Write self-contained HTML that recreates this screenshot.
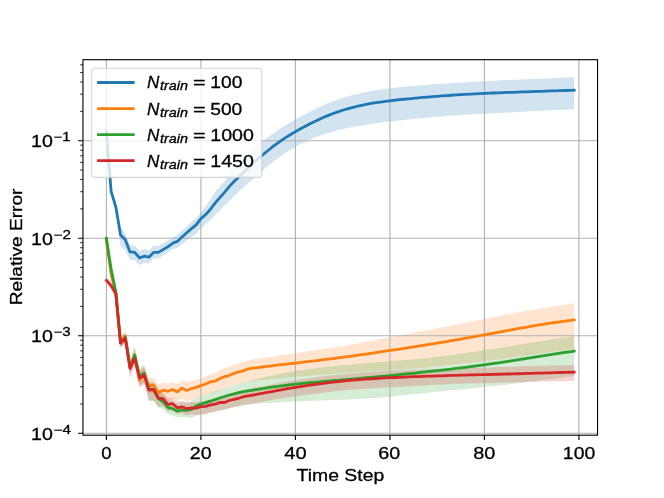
<!DOCTYPE html>
<html><head><meta charset="utf-8"><title>Relative Error vs Time Step</title>
<style>
html,body{margin:0;padding:0;background:#ffffff;}
body{width:664px;height:498px;overflow:hidden;position:relative;font-family:"Liberation Sans",sans-serif;}
svg{will-change:transform;}
svg text{font-family:"Liberation Sans",sans-serif;}
</style></head>
<body>
<svg width="664" height="498" viewBox="0 0 664 498" style="display:block;position:absolute;left:0;top:0">
<rect x="0" y="0" width="664" height="498" fill="#ffffff"/>
<defs><clipPath id="ax"><rect x="82.95" y="59.7" width="514.5999999999999" height="375.5"/></clipPath></defs>
<g clip-path="url(#ax)">
<polygon points="106.39,130 111.12,188.8 115.84,203 120.57,227 125.29,233.5 130.02,245.1 134.74,245.5 139.47,250.9 144.19,249.3 148.92,250.4 153.64,245.85 158.37,246.1 163.09,243.45 167.82,240.8 172.55,237.1 177.27,235 182,230.4 186.72,226.18 191.45,221.95 196.17,218.22 200.9,211.9 205.62,206.4 210.35,199.4 215.07,192 219.8,186.3 224.52,180.9 229.25,174.6 233.98,168.6 238.7,163.5 243.43,158.5 248.15,153.6 252.88,149.41 257.6,145.51 262.33,141.81 267.05,138.11 271.78,134.6 276.5,131.25 281.23,128.06 285.96,125.03 290.68,122.15 295.41,119.39 300.13,116.75 304.86,114.21 309.58,111.77 314.31,109.44 319.03,107.21 323.76,105.09 328.48,103.1 333.21,101.25 337.93,99.53 342.66,97.95 347.39,96.51 352.11,95.2 356.84,94.01 361.56,92.93 366.29,91.95 371.01,91.07 375.74,90.27 380.46,89.56 385.19,88.91 389.91,88.32 394.64,87.78 399.36,87.28 404.09,86.81 408.82,86.37 413.54,85.95 418.27,85.55 422.99,85.16 427.72,84.78 432.44,84.41 437.17,84.06 441.89,83.71 446.62,83.38 451.34,83.06 456.07,82.76 460.79,82.47 465.52,82.2 470.25,81.94 474.97,81.69 479.7,81.45 484.42,81.22 489.15,80.99 493.87,80.77 498.6,80.55 503.32,80.33 508.05,80.11 512.77,79.9 517.5,79.68 522.23,79.47 526.95,79.26 531.68,79.05 536.4,78.84 541.13,78.63 545.85,78.42 550.58,78.22 555.3,78.01 560.03,77.81 564.75,77.61 569.48,77.4 574.2,77.2 574.2,109.2 569.48,109.42 564.75,109.65 560.03,109.87 555.3,110.1 550.58,110.32 545.85,110.55 541.13,110.78 536.4,111.01 531.68,111.24 526.95,111.47 522.23,111.7 517.5,111.94 512.77,112.17 508.05,112.41 503.32,112.65 498.6,112.89 493.87,113.14 489.15,113.39 484.42,113.65 479.7,113.91 474.97,114.18 470.25,114.47 465.52,114.77 460.79,115.08 456.07,115.41 451.34,115.75 446.62,116.11 441.89,116.48 437.17,116.87 432.44,117.27 427.72,117.69 422.99,118.12 418.27,118.56 413.54,119.01 408.82,119.48 404.09,119.96 399.36,120.46 394.64,120.97 389.91,121.51 385.19,122.07 380.46,122.66 375.74,123.28 371.01,123.94 366.29,124.65 361.56,125.41 356.84,126.23 352.11,127.11 347.39,128.07 342.66,129.11 337.93,130.25 333.21,131.51 328.48,132.88 323.76,134.39 319.03,136.05 314.31,137.87 309.58,139.84 304.86,141.99 300.13,144.33 295.41,146.88 290.68,149.63 285.96,152.61 281.23,155.83 276.5,159.28 271.78,162.93 267.05,166.78 262.33,170.76 257.6,174.81 252.88,179 248.15,183.2 243.43,187.45 238.7,191.8 233.98,196 229.25,201.1 224.52,205.5 219.8,210.4 215.07,215.1 210.35,220.1 205.62,224.1 200.9,228.3 196.17,233.97 191.45,237.05 186.72,240.62 182,244.2 177.27,248.03 172.55,249.37 167.82,252.3 163.09,255.45 158.37,258.6 153.64,258.6 148.92,263.4 144.19,262.8 139.47,264.9 134.74,259.95 130.02,260 125.29,249.8 120.57,247 115.84,212 111.12,194.3 106.39,132" fill="#1f77b4" fill-opacity="0.2"/>
<polygon points="106.39,237.5 111.12,270.67 115.84,289.83 120.57,339 125.29,330.4 130.02,359 134.74,347 139.47,370 144.19,366.3 148.92,377.65 153.64,377.4 158.37,385 163.09,382.2 167.82,383.7 172.55,382.2 177.27,384.3 182,380.3 186.72,382.6 191.45,380.8 196.17,379.65 200.9,378 205.62,376.18 210.35,373.76 215.07,372.94 219.8,370.02 224.52,367.9 229.25,366.6 233.98,364.43 238.7,363.15 243.43,362.18 248.15,360.4 252.88,359.59 257.6,358.82 262.33,358.08 267.05,357.34 271.78,356.61 276.5,355.91 281.23,355.22 285.96,354.53 290.68,353.86 295.41,353.17 300.13,352.48 304.86,351.79 309.58,351.08 314.31,350.36 319.03,349.63 323.76,348.9 328.48,348.17 333.21,347.42 337.93,346.67 342.66,345.91 347.39,345.13 352.11,344.33 356.84,343.5 361.56,342.65 366.29,341.77 371.01,340.87 375.74,339.95 380.46,339.02 385.19,338.09 389.91,337.17 394.64,336.25 399.36,335.34 404.09,334.45 408.82,333.56 413.54,332.69 418.27,331.81 422.99,330.93 427.72,330.04 432.44,329.15 437.17,328.24 441.89,327.33 446.62,326.42 451.34,325.49 456.07,324.57 460.79,323.64 465.52,322.71 470.25,321.78 474.97,320.84 479.7,319.9 484.42,318.96 489.15,318.02 493.87,317.07 498.6,316.14 503.32,315.21 508.05,314.3 512.77,313.41 517.5,312.54 522.23,311.69 526.95,310.86 531.68,310.05 536.4,309.26 541.13,308.48 545.85,307.71 550.58,306.95 555.3,306.2 560.03,305.45 564.75,304.7 569.48,303.95 574.2,303.2 574.2,349 569.48,349.59 564.75,350.2 560.03,350.83 555.3,351.46 550.58,352.11 545.85,352.76 541.13,353.42 536.4,354.1 531.68,354.77 526.95,355.46 522.23,356.14 517.5,356.82 512.77,357.5 508.05,358.17 503.32,358.83 498.6,359.46 493.87,360.07 489.15,360.66 484.42,361.22 479.7,361.75 474.97,362.27 470.25,362.77 465.52,363.28 460.79,363.78 456.07,364.28 451.34,364.79 446.62,365.3 441.89,365.81 437.17,366.31 432.44,366.8 427.72,367.27 422.99,367.71 418.27,368.13 413.54,368.53 408.82,368.89 404.09,369.24 399.36,369.56 394.64,369.86 389.91,370.14 385.19,370.41 380.46,370.66 375.74,370.92 371.01,371.18 366.29,371.45 361.56,371.74 356.84,372.04 352.11,372.37 347.39,372.71 342.66,373.06 337.93,373.42 333.21,373.79 328.48,374.16 323.76,374.53 319.03,374.9 314.31,375.27 309.58,375.64 304.86,376.01 300.13,376.4 295.41,376.79 290.68,377.2 285.96,377.62 281.23,378.06 276.5,378.51 271.78,378.98 267.05,379.47 262.33,379.97 257.6,380.47 252.88,380.98 248.15,381.5 243.43,383.1 238.7,383.9 233.98,384.9 229.25,386.8 224.52,387.9 219.8,389.9 215.07,392.5 210.35,393 205.62,395 200.9,396.4 196.17,398.5 191.45,400.1 186.72,401.45 182,398.7 177.27,401.65 172.55,398.5 167.82,400.3 163.09,399.1 158.37,401.55 153.64,393.6 148.92,394.25 144.19,383.3 139.47,387.5 134.74,362.5 130.02,372 125.29,340.9 120.57,347.5 115.84,297.5 111.12,277.5 106.39,243.5" fill="#ff7f0e" fill-opacity="0.2"/>
<polygon points="106.39,235.2 111.12,265.67 115.84,288.33 120.57,338.8 125.29,332.5 130.02,361 134.74,346.8 139.47,368 144.19,364.4 148.92,381.35 153.64,382 158.37,391 163.09,394.3 167.82,399.8 172.55,401.2 177.27,403.57 182,402.25 186.72,402.43 191.45,401.5 196.17,398.15 200.9,396.6 205.62,394.7 210.35,392.8 215.07,391.3 219.8,389.8 224.52,388.15 229.25,386.5 233.98,385.15 238.7,383.8 243.43,382.65 248.15,381.5 252.88,380.09 257.6,378.84 262.33,377.68 267.05,376.51 271.78,375.43 276.5,374.43 281.23,373.48 285.96,372.61 290.68,371.81 295.41,371.05 300.13,370.35 304.86,369.68 309.58,369.05 314.31,368.46 319.03,367.89 323.76,367.35 328.48,366.83 333.21,366.32 337.93,365.84 342.66,365.36 347.39,364.9 352.11,364.44 356.84,364 361.56,363.56 366.29,363.13 371.01,362.71 375.74,362.31 380.46,361.92 385.19,361.54 389.91,361.16 394.64,360.8 399.36,360.43 404.09,360.06 408.82,359.68 413.54,359.27 418.27,358.84 422.99,358.38 427.72,357.88 432.44,357.36 437.17,356.81 441.89,356.23 446.62,355.62 451.34,355 456.07,354.35 460.79,353.69 465.52,353.02 470.25,352.35 474.97,351.67 479.7,350.98 484.42,350.29 489.15,349.6 493.87,348.89 498.6,348.18 503.32,347.44 508.05,346.68 512.77,345.9 517.5,345.11 522.23,344.3 526.95,343.49 531.68,342.69 536.4,341.9 541.13,341.13 545.85,340.39 550.58,339.67 555.3,338.98 560.03,338.32 564.75,337.65 569.48,337.01 574.2,336.4 574.2,376.1 569.48,376.7 564.75,377.3 560.03,377.9 555.3,378.5 550.58,379.1 545.85,379.71 541.13,380.31 536.4,380.91 531.68,381.51 526.95,382.11 522.23,382.71 517.5,383.29 512.77,383.87 508.05,384.44 503.32,385 498.6,385.55 493.87,386.09 489.15,386.61 484.42,387.11 479.7,387.61 474.97,388.09 470.25,388.56 465.52,389.02 460.79,389.48 456.07,389.92 451.34,390.37 446.62,390.81 441.89,391.26 437.17,391.71 432.44,392.17 427.72,392.64 422.99,393.13 418.27,393.63 413.54,394.14 408.82,394.65 404.09,395.17 399.36,395.68 394.64,396.18 389.91,396.66 385.19,397.11 380.46,397.53 375.74,397.92 371.01,398.27 366.29,398.58 361.56,398.86 356.84,399.1 352.11,399.32 347.39,399.51 342.66,399.68 337.93,399.85 333.21,400.02 328.48,400.19 323.76,400.36 319.03,400.54 314.31,400.72 309.58,400.91 304.86,401.1 300.13,401.29 295.41,401.49 290.68,401.7 285.96,401.93 281.23,402.17 276.5,402.43 271.78,402.71 267.05,403.02 262.33,403.36 257.6,403.69 252.88,404.07 248.15,404.5 243.43,405.32 238.7,406.14 233.98,407.26 229.25,408.38 224.52,409.8 219.8,410.74 215.07,411.78 210.35,412.82 205.62,413.71 200.9,414.6 196.17,415.4 191.45,418 186.72,417.5 182,416.75 177.27,417.5 172.55,415.15 167.82,413.9 163.09,409.3 158.37,407.5 153.64,401 148.92,400.5 144.19,382.2 139.47,384.75 134.74,362.5 130.02,374.5 125.29,342.5 120.57,347.3 115.84,296 111.12,272.5 106.39,241.2" fill="#2ca02c" fill-opacity="0.2"/>
<polygon points="106.39,276.4 111.12,282.1 115.84,290.9 120.57,339.2 125.29,333 130.02,362.5 134.74,351.8 139.47,371.45 144.19,368 148.92,383.25 153.64,383 158.37,391.73 163.09,392.45 167.82,398.18 172.55,397.6 177.27,401.8 182,400.8 186.72,402.7 191.45,401.8 196.17,402.35 200.9,401.2 205.62,400.85 210.35,399.5 215.07,398.5 219.8,396.4 224.52,396.2 229.25,394.12 233.98,392.94 238.7,391.76 243.43,390.08 248.15,389.2 252.88,388.27 257.6,387.32 262.33,386.38 267.05,385.44 271.78,384.51 276.5,383.6 281.23,382.72 285.96,381.86 290.68,381.04 295.41,380.26 300.13,379.51 304.86,378.8 309.58,378.13 314.31,377.49 319.03,376.87 323.76,376.28 328.48,375.71 333.21,375.17 337.93,374.66 342.66,374.18 347.39,373.72 352.11,373.3 356.84,372.92 361.56,372.57 366.29,372.24 371.01,371.94 375.74,371.66 380.46,371.4 385.19,371.15 389.91,370.92 394.64,370.69 399.36,370.47 404.09,370.26 408.82,370.06 413.54,369.87 418.27,369.7 422.99,369.53 427.72,369.37 432.44,369.22 437.17,369.07 441.89,368.91 446.62,368.76 451.34,368.6 456.07,368.45 460.79,368.29 465.52,368.14 470.25,367.99 474.97,367.84 479.7,367.69 484.42,367.54 489.15,367.39 493.87,367.24 498.6,367.09 503.32,366.95 508.05,366.8 512.77,366.65 517.5,366.5 522.23,366.36 526.95,366.22 531.68,366.07 536.4,365.93 541.13,365.79 545.85,365.65 550.58,365.52 555.3,365.39 560.03,365.28 564.75,365.15 569.48,365.04 574.2,364.95 574.2,380.85 569.48,380.96 564.75,381.09 560.03,381.21 555.3,381.33 550.58,381.46 545.85,381.58 541.13,381.71 536.4,381.83 531.68,381.95 526.95,382.07 522.23,382.19 517.5,382.3 512.77,382.42 508.05,382.53 503.32,382.65 498.6,382.76 493.87,382.88 489.15,382.99 484.42,383.1 479.7,383.21 474.97,383.32 470.25,383.44 465.52,383.56 460.79,383.7 456.07,383.85 451.34,384.03 446.62,384.22 441.89,384.44 437.17,384.67 432.44,384.92 427.72,385.18 422.99,385.45 418.27,385.72 413.54,385.99 408.82,386.26 404.09,386.52 399.36,386.78 394.64,387.03 389.91,387.28 385.19,387.53 380.46,387.79 375.74,388.06 371.01,388.34 366.29,388.64 361.56,388.97 356.84,389.32 352.11,389.7 347.39,390.12 342.66,390.57 337.93,391.05 333.21,391.56 328.48,392.09 323.76,392.64 319.03,393.2 314.31,393.78 309.58,394.37 304.86,394.99 300.13,395.62 295.41,396.27 290.68,396.96 285.96,397.67 281.23,398.42 276.5,399.21 271.78,400.02 267.05,400.86 262.33,401.73 257.6,402.6 252.88,403.49 248.15,404.4 243.43,404.92 238.7,406.24 233.98,407.06 229.25,407.88 224.52,409.6 219.8,409.66 215.07,411.62 210.35,412.48 205.62,414.04 200.9,414.6 196.17,415.3 191.45,414.3 186.72,415.2 182,413.3 177.27,414.3 172.55,410.1 167.82,411.3 163.09,406.2 158.37,407.1 153.64,400.5 148.92,401 144.19,384 139.47,387.2 134.74,366.3 130.02,377.5 125.29,343.5 120.57,348.2 115.84,297.4 111.12,289.35 106.39,284.4" fill="#d62728" fill-opacity="0.2"/>
<line x1="106.39" x2="106.39" y1="59.7" y2="435.2" stroke="#b0b0b0" stroke-width="1.11"/>
<line x1="200.9" x2="200.9" y1="59.7" y2="435.2" stroke="#b0b0b0" stroke-width="1.11"/>
<line x1="295.41" x2="295.41" y1="59.7" y2="435.2" stroke="#b0b0b0" stroke-width="1.11"/>
<line x1="389.91" x2="389.91" y1="59.7" y2="435.2" stroke="#b0b0b0" stroke-width="1.11"/>
<line x1="484.42" x2="484.42" y1="59.7" y2="435.2" stroke="#b0b0b0" stroke-width="1.11"/>
<line x1="578.93" x2="578.93" y1="59.7" y2="435.2" stroke="#b0b0b0" stroke-width="1.11"/>
<line x1="82.95" x2="597.55" y1="433.3" y2="433.3" stroke="#b0b0b0" stroke-width="1.11"/>
<line x1="82.95" x2="597.55" y1="335.77" y2="335.77" stroke="#b0b0b0" stroke-width="1.11"/>
<line x1="82.95" x2="597.55" y1="238.24" y2="238.24" stroke="#b0b0b0" stroke-width="1.11"/>
<line x1="82.95" x2="597.55" y1="140.71" y2="140.71" stroke="#b0b0b0" stroke-width="1.11"/>
<polyline points="106.39,131 111.12,191.3 115.84,207 120.57,235 125.29,239.8 130.02,251.9 134.74,252.4 139.47,257.9 144.19,256.2 148.92,257.2 153.64,252.4 158.37,252.4 163.09,249.6 167.82,246.8 172.55,243.3 177.27,241.4 182,237 186.72,232.8 191.45,228.6 196.17,224.9 200.9,218.6 205.62,214.6 210.35,209.5 215.07,203.1 219.8,197.6 224.52,192.3 229.25,186.6 233.98,181.5 238.7,177.3 243.43,172.6 248.15,168 252.88,163.47 257.6,159.23 262.33,155.23 267.05,151.25 271.78,147.48 276.5,143.93 281.23,140.58 285.96,137.44 290.68,134.48 295.41,131.67 300.13,129 304.86,126.45 309.58,124.01 314.31,121.67 319.03,119.44 323.76,117.33 328.48,115.36 333.21,113.52 337.93,111.82 342.66,110.26 347.39,108.83 352.11,107.54 356.84,106.36 361.56,105.3 366.29,104.34 371.01,103.48 375.74,102.71 380.46,102.01 385.19,101.37 389.91,100.79 394.64,100.25 399.36,99.74 404.09,99.25 408.82,98.79 413.54,98.34 418.27,97.9 422.99,97.48 427.72,97.07 432.44,96.68 437.17,96.3 441.89,95.94 446.62,95.59 451.34,95.26 456.07,94.95 460.79,94.65 465.52,94.37 470.25,94.1 474.97,93.85 479.7,93.62 484.42,93.4 489.15,93.2 493.87,93 498.6,92.81 503.32,92.63 508.05,92.46 512.77,92.29 517.5,92.12 522.23,91.95 526.95,91.78 531.68,91.62 536.4,91.46 541.13,91.3 545.85,91.14 550.58,90.98 555.3,90.82 560.03,90.67 564.75,90.51 569.48,90.36 574.2,90.2" fill="none" stroke="#1f77b4" stroke-width="2.78" stroke-linejoin="round" stroke-linecap="square"/>
<polyline points="106.39,240.5 111.12,274 115.84,293.5 120.57,343 125.29,335.9 130.02,366 134.74,355.5 139.47,380 144.19,375.3 148.92,386 153.64,385.1 158.37,392.8 163.09,390.1 167.82,391.3 172.55,389.5 177.27,391.9 182,388.2 186.72,390.5 191.45,388.7 196.17,387.4 200.9,385.6 205.62,384 210.35,381.8 215.07,381.2 219.8,378.5 224.52,376.6 229.25,375.6 233.98,373.3 238.7,371.9 243.43,370.8 248.15,368.9 252.88,368.24 257.6,367.61 262.33,367 267.05,366.39 271.78,365.81 276.5,365.24 281.23,364.68 285.96,364.13 290.68,363.59 295.41,363.06 300.13,362.52 304.86,361.97 309.58,361.42 314.31,360.85 319.03,360.28 323.76,359.7 328.48,359.11 333.21,358.51 337.93,357.91 342.66,357.29 347.39,356.66 352.11,356.02 356.84,355.36 361.56,354.69 366.29,354.01 371.01,353.32 375.74,352.62 380.46,351.91 385.19,351.19 389.91,350.48 394.64,349.76 399.36,349.04 404.09,348.32 408.82,347.6 413.54,346.87 418.27,346.14 422.99,345.41 427.72,344.66 432.44,343.9 437.17,343.13 441.89,342.34 446.62,341.55 451.34,340.73 456.07,339.91 460.79,339.07 465.52,338.22 470.25,337.37 474.97,336.51 479.7,335.65 484.42,334.78 489.15,333.91 493.87,333.04 498.6,332.17 503.32,331.29 508.05,330.42 512.77,329.55 517.5,328.69 522.23,327.84 526.95,327.01 531.68,326.2 536.4,325.41 541.13,324.65 545.85,323.91 550.58,323.19 555.3,322.5 560.03,321.83 564.75,321.16 569.48,320.51 574.2,319.9" fill="none" stroke="#ff7f0e" stroke-width="2.78" stroke-linejoin="round" stroke-linecap="square"/>
<polyline points="106.39,238.2 111.12,269 115.84,292 120.57,342.8 125.29,337.5 130.02,367.5 134.74,355 139.47,376.5 144.19,373.2 148.92,389.5 153.64,389.5 158.37,398.5 163.09,401.8 167.82,407.3 172.55,408.7 177.27,411.2 182,410 186.72,410.3 191.45,409.5 196.17,405.9 200.9,404.1 205.62,402.65 210.35,401.2 215.07,399.6 219.8,398 224.52,396.5 229.25,395 233.98,393.8 238.7,392.6 243.43,391.7 248.15,390.8 252.88,390.02 257.6,389.29 262.33,388.58 267.05,387.87 271.78,387.19 276.5,386.54 281.23,385.9 285.96,385.3 290.68,384.74 295.41,384.2 300.13,383.69 304.86,383.21 309.58,382.75 314.31,382.31 319.03,381.89 323.76,381.48 328.48,381.08 333.21,380.68 337.93,380.27 342.66,379.86 347.39,379.45 352.11,379.03 356.84,378.6 361.56,378.18 366.29,377.75 371.01,377.33 375.74,376.9 380.46,376.48 385.19,376.04 389.91,375.61 394.64,375.16 399.36,374.7 404.09,374.23 408.82,373.75 413.54,373.26 418.27,372.75 422.99,372.24 427.72,371.72 432.44,371.19 437.17,370.66 441.89,370.12 446.62,369.58 451.34,369.03 456.07,368.47 460.79,367.9 465.52,367.32 470.25,366.72 474.97,366.1 479.7,365.47 484.42,364.82 489.15,364.15 493.87,363.47 498.6,362.76 503.32,362.04 508.05,361.31 512.77,360.56 517.5,359.81 522.23,359.05 526.95,358.29 531.68,357.53 536.4,356.78 541.13,356.03 545.85,355.3 550.58,354.58 555.3,353.87 560.03,353.17 564.75,352.47 569.48,351.78 574.2,351.1" fill="none" stroke="#2ca02c" stroke-width="2.78" stroke-linejoin="round" stroke-linecap="square"/>
<polyline points="106.39,280.4 111.12,285.6 115.84,293.9 120.57,343.2 125.29,338 130.02,368.5 134.74,358.3 139.47,378.2 144.19,375 148.92,390 153.64,389.5 158.37,398.1 163.09,398.7 167.82,404.3 172.55,403.6 177.27,407.8 182,406.8 186.72,408.7 191.45,407.8 196.17,408.1 200.9,406.7 205.62,406.3 210.35,404.9 215.07,404.2 219.8,402.4 224.52,402.5 229.25,400.5 233.98,399.4 238.7,398.3 243.43,396.7 248.15,395.9 252.88,395.06 257.6,394.2 262.33,393.32 267.05,392.45 271.78,391.57 276.5,390.7 281.23,389.84 285.96,388.99 290.68,388.17 295.41,387.37 300.13,386.61 304.86,385.87 309.58,385.18 314.31,384.51 319.03,383.87 323.76,383.27 328.48,382.69 333.21,382.13 337.93,381.61 342.66,381.12 347.39,380.66 352.11,380.23 356.84,379.83 361.56,379.46 366.29,379.12 371.01,378.8 375.74,378.51 380.46,378.23 385.19,377.98 389.91,377.73 394.64,377.5 399.36,377.29 404.09,377.08 408.82,376.89 413.54,376.71 418.27,376.54 422.99,376.37 427.72,376.22 432.44,376.07 437.17,375.92 441.89,375.77 446.62,375.63 451.34,375.48 456.07,375.34 460.79,375.2 465.52,375.07 470.25,374.95 474.97,374.83 479.7,374.71 484.42,374.6 489.15,374.49 493.87,374.37 498.6,374.25 503.32,374.13 508.05,374 512.77,373.87 517.5,373.74 522.23,373.6 526.95,373.46 531.68,373.31 536.4,373.17 541.13,373.04 545.85,372.9 550.58,372.77 555.3,372.64 560.03,372.51 564.75,372.39 569.48,372.26 574.2,372.15" fill="none" stroke="#d62728" stroke-width="2.78" stroke-linejoin="round" stroke-linecap="square"/>
</g>
<path d="M106.39 435.2v4.86M200.9 435.2v4.86M295.41 435.2v4.86M389.91 435.2v4.86M484.42 435.2v4.86M578.93 435.2v4.86M82.95 433.3h-4.86M82.95 335.77h-4.86M82.95 238.24h-4.86M82.95 140.71h-4.86" stroke="#000" stroke-width="1.11" fill="none"/>
<path d="M82.95 403.94h-2.78M82.95 386.77h-2.78M82.95 374.58h-2.78M82.95 365.13h-2.78M82.95 357.41h-2.78M82.95 350.88h-2.78M82.95 345.22h-2.78M82.95 340.23h-2.78M82.95 306.41h-2.78M82.95 289.24h-2.78M82.95 277.05h-2.78M82.95 267.6h-2.78M82.95 259.88h-2.78M82.95 253.35h-2.78M82.95 247.69h-2.78M82.95 242.7h-2.78M82.95 208.88h-2.78M82.95 191.71h-2.78M82.95 179.52h-2.78M82.95 170.07h-2.78M82.95 162.35h-2.78M82.95 155.82h-2.78M82.95 150.16h-2.78M82.95 145.17h-2.78M82.95 111.35h-2.78M82.95 94.18h-2.78M82.95 81.99h-2.78M82.95 72.54h-2.78M82.95 64.82h-2.78" stroke="#000" stroke-width="0.83" fill="none"/>
<rect x="82.95" y="59.7" width="514.5999999999999" height="375.5" fill="none" stroke="#000" stroke-width="1.11"/>
<rect x="91.7" y="68.3" width="170.10000000000002" height="109.10000000000001" rx="3.3" ry="3.3" fill="#ffffff" fill-opacity="0.8" stroke="#cccccc" stroke-opacity="0.8" stroke-width="1.11"/>
<line x1="97.1" x2="134.6" y1="82.5" y2="82.5" stroke="#1f77b4" stroke-width="2.78"/>
<line x1="97.1" x2="134.6" y1="108.6" y2="108.6" stroke="#ff7f0e" stroke-width="2.78"/>
<line x1="97.1" x2="134.6" y1="134.6" y2="134.6" stroke="#2ca02c" stroke-width="2.78"/>
<line x1="97.1" x2="134.6" y1="160.7" y2="160.7" stroke="#d62728" stroke-width="2.78"/>
<g font-family="Liberation Sans, sans-serif" fill="#000" stroke="#000" stroke-width="0.3" stroke-linejoin="round">
<text transform="translate(101.16 458.55) scale(1.0843 1)" font-size="17.1">0</text>
<text transform="translate(189.82 458.55) scale(1.1467 1)" font-size="17.1">20</text>
<text transform="translate(284.3 458.55) scale(1.1752 1)" font-size="17.1">40</text>
<text transform="translate(378.31 458.55) scale(1.1524 1)" font-size="17.1">60</text>
<text transform="translate(473.2 458.55) scale(1.1639 1)" font-size="17.1">80</text>
<text transform="translate(562.85 458.55) scale(1.1356 1)" font-size="17.1">100</text>
<text transform="translate(31.03 439.85) scale(1.1460 1)" font-size="17.1">10</text>
<text transform="translate(53.54 433.6) scale(1.2657 1)" font-size="12.0">−4</text>
<text transform="translate(31.03 342.32) scale(1.1460 1)" font-size="17.1">10</text>
<text transform="translate(53.55 336.07) scale(1.2540 1)" font-size="12.0">−3</text>
<text transform="translate(31.03 244.79) scale(1.1460 1)" font-size="17.1">10</text>
<text transform="translate(53.54 238.54) scale(1.2660 1)" font-size="12.0">−2</text>
<text transform="translate(31.03 147.26) scale(1.1460 1)" font-size="17.1">10</text>
<text transform="translate(53.56 141.01) scale(1.2260 1)" font-size="12.0">−1</text>
<text transform="translate(296.61 481.25) scale(1.1342 1)" font-size="17.1">Time Step</text>
<text transform="translate(21.9 305.33) rotate(-90) scale(1.1181 1)" font-size="17.1">Relative Error</text>
<text transform="translate(147.09 88.4) scale(1.0001 1)" font-size="17.1" font-style="italic">N</text>
<text transform="translate(160.08 90.4) scale(1.1982 1)" font-size="12.0" font-style="italic">train</text>
<text transform="translate(192.92 88.4) scale(1.2671 1)" font-size="17.1">=</text>
<text transform="translate(210.26 88.4) scale(1.1243 1)" font-size="17.1">100</text>
<text transform="translate(147.09 114.5) scale(1.0001 1)" font-size="17.1" font-style="italic">N</text>
<text transform="translate(160.08 116.5) scale(1.1982 1)" font-size="12.0" font-style="italic">train</text>
<text transform="translate(192.92 114.5) scale(1.2671 1)" font-size="17.1">=</text>
<text transform="translate(210.23 114.5) scale(1.1255 1)" font-size="17.1">500</text>
<text transform="translate(147.09 140.5) scale(1.0001 1)" font-size="17.1" font-style="italic">N</text>
<text transform="translate(160.08 142.5) scale(1.1982 1)" font-size="12.0" font-style="italic">train</text>
<text transform="translate(192.92 140.5) scale(1.2671 1)" font-size="17.1">=</text>
<text transform="translate(210.23 140.5) scale(1.1473 1)" font-size="17.1">1000</text>
<text transform="translate(147.09 166.6) scale(1.0001 1)" font-size="17.1" font-style="italic">N</text>
<text transform="translate(160.08 168.6) scale(1.1982 1)" font-size="12.0" font-style="italic">train</text>
<text transform="translate(192.92 166.6) scale(1.2671 1)" font-size="17.1">=</text>
<text transform="translate(210.23 166.6) scale(1.1473 1)" font-size="17.1">1450</text>
</g>
</svg>
</body></html>
